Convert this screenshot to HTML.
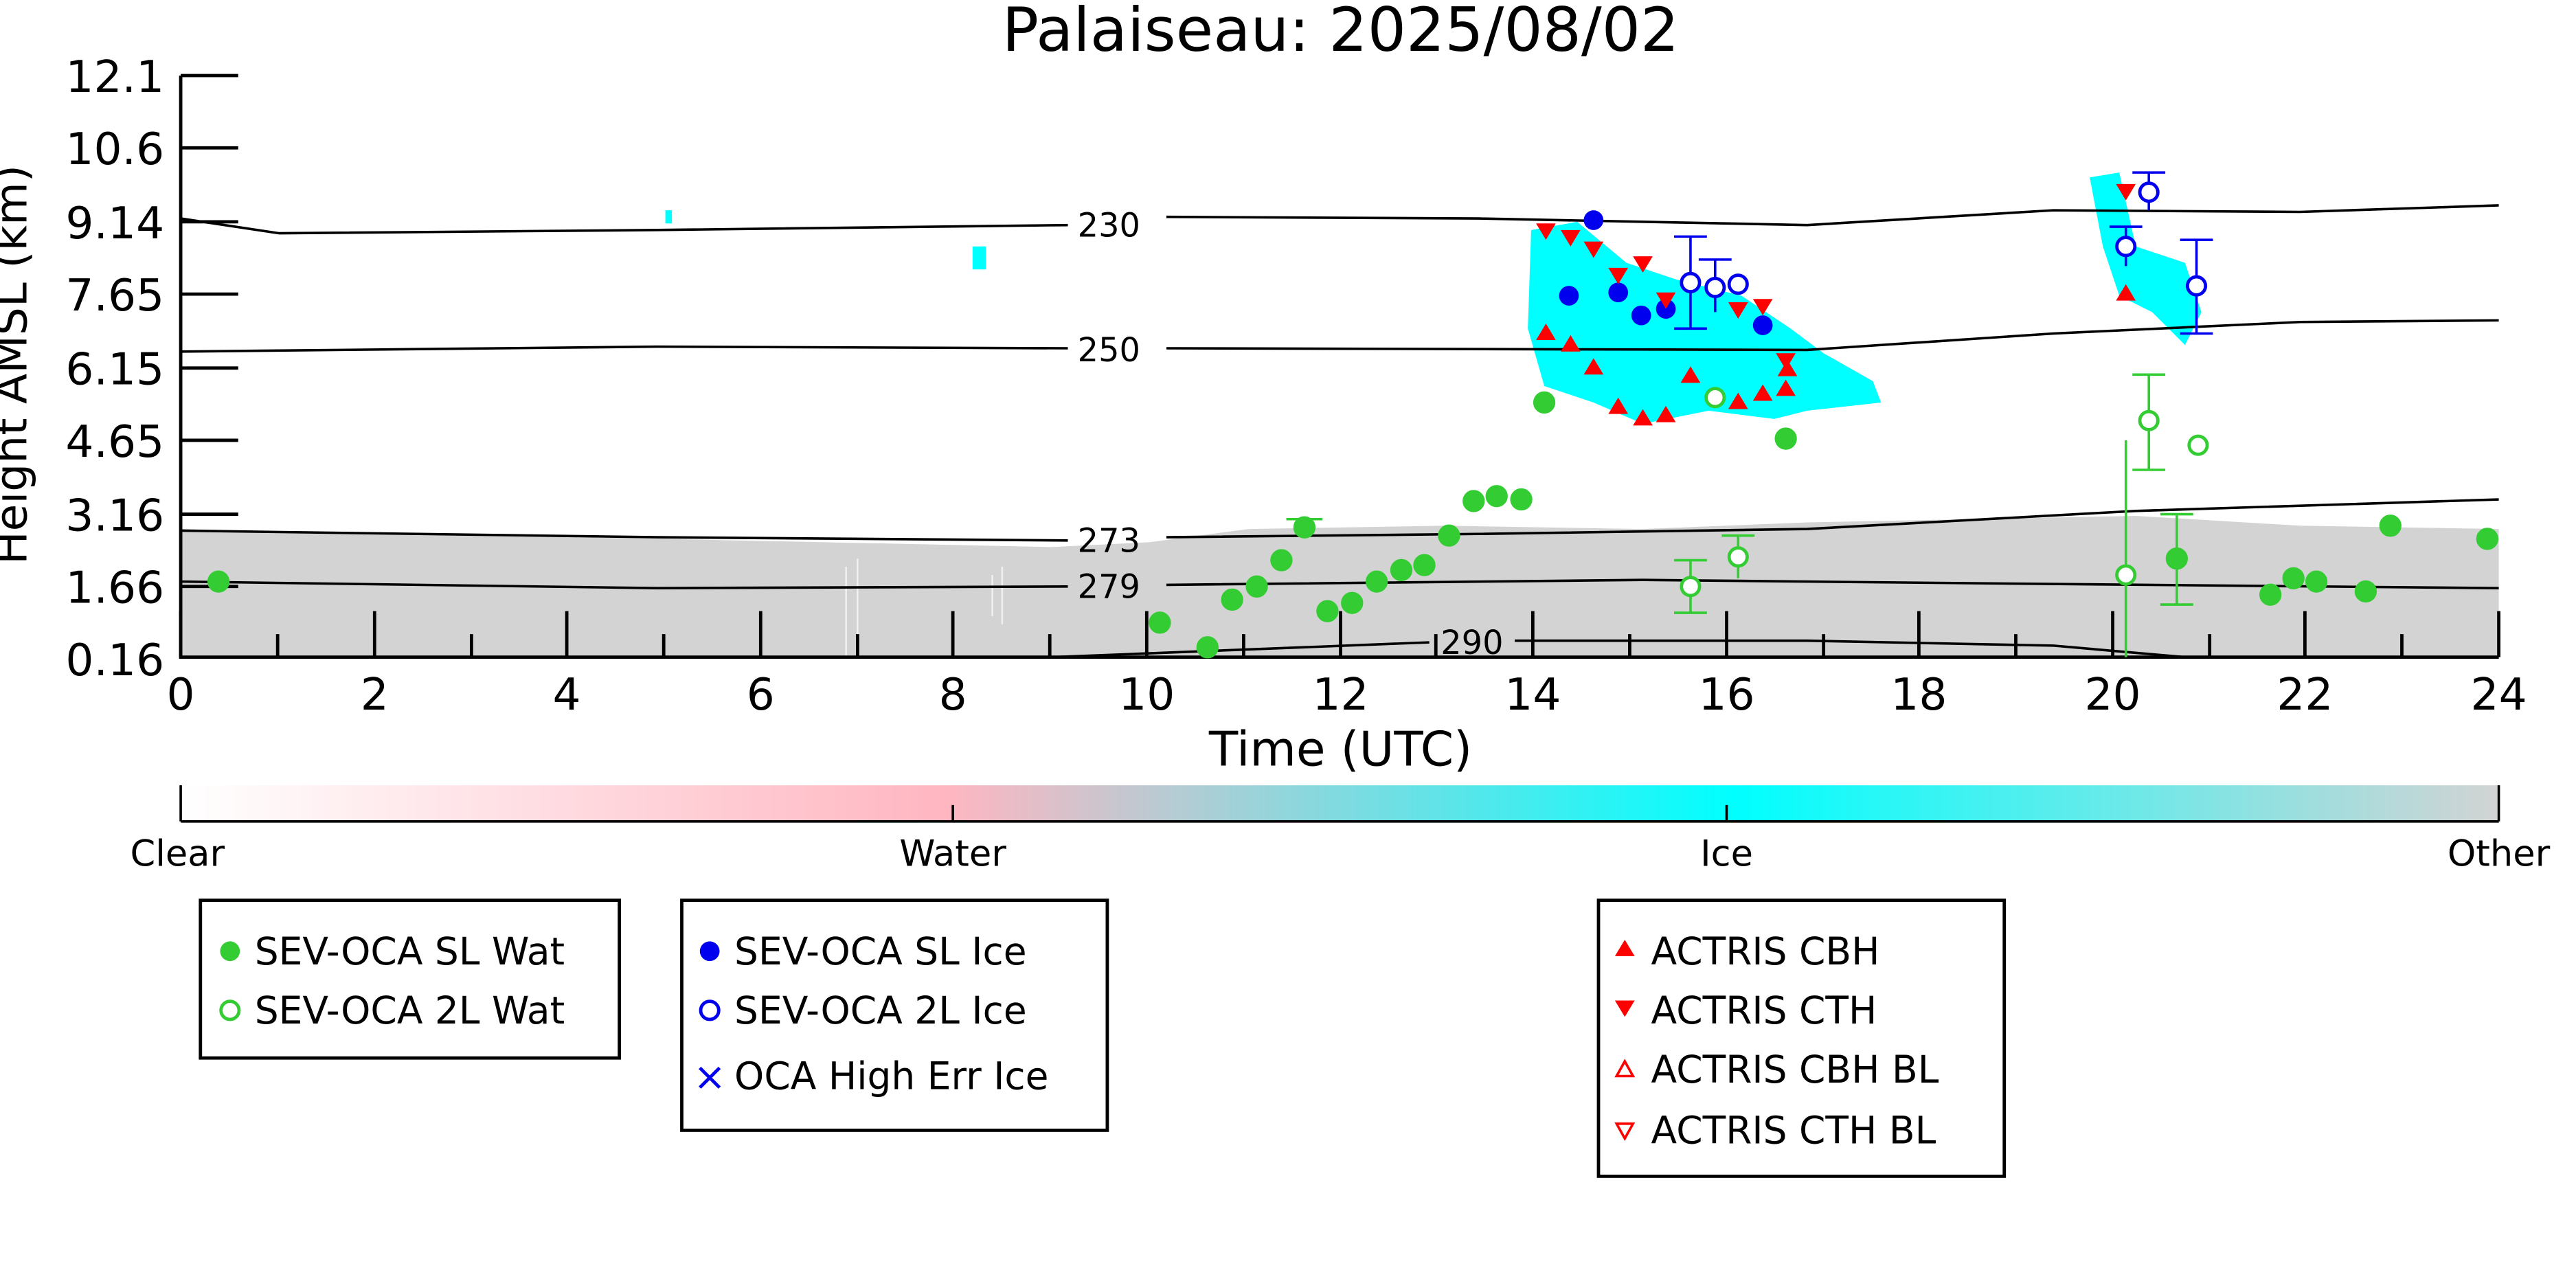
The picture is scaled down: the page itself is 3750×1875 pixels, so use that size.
<!DOCTYPE html>
<html><head><meta charset="utf-8"><style>html,body{margin:0;padding:0;background:#fff}svg{display:block}</style></head>
<body>
<svg width="3750" height="1875" viewBox="0 0 1568 784" xmlns="http://www.w3.org/2000/svg" font-family="DejaVu Sans, Liberation Sans, sans-serif">
<defs>
<linearGradient id="cb" x1="0" x2="1" y1="0" y2="0">
<stop offset="0" stop-color="#ffffff"/><stop offset="0.33" stop-color="#ffb6c1"/><stop offset="0.67" stop-color="#00ffff"/><stop offset="1" stop-color="#d3d3d3"/>
</linearGradient>
</defs>
<text x="816" y="31" font-size="37" text-anchor="middle">Palaiseau: 2025/08/02</text>
<path d="M110,322 L300,326 L500,330 L640,333 L700,330 L760,322 L880,320 L1000,322 L1100,318 L1200,316 L1300,314 L1400,320 L1521,322 L1521,400 L110,400 Z" fill="#d3d3d3"/>
<g stroke="#fff" stroke-width="1" opacity="0.7">
<path d="M515,345 V400 M522,340 V400 M604,350 V375 M610,345 V380"/>
</g>
<path d="M932,140 L960,135 L990,160 L1020,170 L1060,180 L1090,200 L1110,215 L1140,232 L1145,245 L1100,250 L1080,255 L1040,250 L1000,258 L970,245 L940,235 L930,200 Z" fill="#00ffff"/>
<path d="M1272,108 L1290,105 L1300,150 L1330,160 L1340,190 L1330,210 L1310,190 L1290,180 L1280,150 Z" fill="#00ffff"/>
<rect x="405" y="128" width="4" height="8" fill="#00ffff"/>
<rect x="592" y="150" width="8" height="14" fill="#00ffff"/>
<g fill="none" stroke="#000" stroke-width="1.5">
<path d="M110,133 L170,142 L400,140 L650,137 M710,132 L900,133 L1100,137 L1250,128 L1400,129 L1521,125"/>
<path d="M110,214 L400,211 L650,212 M710,212 L1100,213 L1250,203 L1400,196 L1521,195"/>
<path d="M110,323 L400,327 L650,329 M710,327 L900,325 L1100,322 L1300,311 L1521,304"/>
<path d="M110,354 L400,358 L650,357 M710,356 L1000,353 L1200,355 L1521,358"/>
<path d="M640,400 L870,391 M922,390 L1100,390 L1250,393 L1330,400"/>
</g>
<g font-size="20" text-anchor="middle">
<text x="675" y="144">230</text><text x="675" y="220">250</text><text x="675" y="336">273</text><text x="675" y="364">279</text><text x="896" y="398">290</text>
</g>
<g stroke="#000" stroke-width="2" fill="none">
<path d="M110,46 L110,400 L1521,400"/>
<path d="M110,46 L145,46 M110,90 L145,90 M110,135 L145,135 M110,179 L145,179 M110,224 L145,224 M110,268 L145,268 M110,313 L145,313 M110,357 L145,357"/>
<path d="M110,400 v-28 M228,400 v-28 M345,400 v-28 M463,400 v-28 M580,400 v-28 M698,400 v-28 M816,400 v-28 M933,400 v-28 M1051,400 v-28 M1168,400 v-28 M1286,400 v-28 M1403,400 v-28 M1521,400 v-28"/>
<path d="M169,400 v-14 M287,400 v-14 M404,400 v-14 M522,400 v-14 M639,400 v-14 M757,400 v-14 M874,400 v-14 M992,400 v-14 M1110,400 v-14 M1227,400 v-14 M1345,400 v-14 M1462,400 v-14"/>
</g>
<g font-size="27" text-anchor="end">
<text x="100" y="56">12.1</text><text x="100" y="100">10.6</text><text x="100" y="145">9.14</text><text x="100" y="189">7.65</text><text x="100" y="234">6.15</text><text x="100" y="278">4.65</text><text x="100" y="323">3.16</text><text x="100" y="367">1.66</text><text x="100" y="411">0.16</text>
</g>
<g font-size="27" text-anchor="middle">
<text x="110" y="432">0</text><text x="228" y="432">2</text><text x="345" y="432">4</text><text x="463" y="432">6</text><text x="580" y="432">8</text><text x="698" y="432">10</text><text x="816" y="432">12</text><text x="933" y="432">14</text><text x="1051" y="432">16</text><text x="1168" y="432">18</text><text x="1286" y="432">20</text><text x="1403" y="432">22</text><text x="1521" y="432">24</text>
<text x="816" y="466" font-size="29">Time (UTC)</text>
</g>
<text transform="translate(16,222) rotate(-90)" font-size="27" text-anchor="middle">Height AMSL (km)</text>
<g fill="#33cc33" stroke="#33cc33" stroke-width="1.5">
<circle cx="133" cy="354" r="6"/><circle cx="706" cy="379" r="6"/><circle cx="735" cy="394" r="6"/><circle cx="750" cy="365" r="6"/><circle cx="765" cy="357" r="6"/><circle cx="780" cy="341" r="6"/><circle cx="794" cy="321" r="6"/><circle cx="808" cy="372" r="6"/><circle cx="823" cy="367" r="6"/><circle cx="838" cy="354" r="6"/><circle cx="853" cy="347" r="6"/><circle cx="867" cy="344" r="6"/><circle cx="882" cy="326" r="6"/><circle cx="897" cy="305" r="6"/><circle cx="911" cy="302" r="6"/><circle cx="926" cy="304" r="6"/><circle cx="940" cy="245" r="6"/><circle cx="1087" cy="267" r="6"/><circle cx="1325" cy="340" r="6"/><circle cx="1382" cy="362" r="6"/><circle cx="1396" cy="352" r="6"/><circle cx="1410" cy="354" r="6"/><circle cx="1440" cy="360" r="6"/><circle cx="1455" cy="320" r="6"/><circle cx="1514" cy="328" r="6"/>
<path d="M1325,313 V368 M1315,313 h20 M1315,368 h20 M783,316 h22 M1294,268 V400 M1029,341 V373 M1019,341 h20 M1019,373 h20 M1058,326 V352 M1048,326 h20 M1308,228 V286 M1298,228 h20 M1298,286 h20" fill="none"/>
</g>
<g fill="#fff" stroke="#33cc33" stroke-width="2">
<circle cx="1029" cy="357" r="5.5"/><circle cx="1044" cy="242" r="5.5"/><circle cx="1058" cy="339" r="5.5"/><circle cx="1294" cy="350" r="5.5"/><circle cx="1308" cy="256" r="5.5"/><circle cx="1338" cy="271" r="5.5"/>
</g>
<g stroke="#0000ee" stroke-width="1.5" fill="none">
<path d="M1029,144 V200 M1019,144 h20 M1019,200 h20 M1044,158 V190 M1034,158 h20 M1337,146 V203 M1327,146 h20 M1327,203 h20 M1308,105 V128 M1298,105 h20 M1294,138 V162 M1284,138 h20"/>
</g>
<g fill="#0000ee">
<circle cx="955" cy="180" r="6"/><circle cx="970" cy="134" r="6"/><circle cx="985" cy="178" r="6"/><circle cx="999" cy="192" r="6"/><circle cx="1014" cy="188" r="6"/><circle cx="1073" cy="198" r="6"/>
</g>
<g fill="#fff" stroke="#0000ee" stroke-width="2">
<circle cx="1029" cy="172" r="5.5"/><circle cx="1044" cy="175" r="5.5"/><circle cx="1058" cy="173" r="5.5"/><circle cx="1294" cy="150" r="5.5"/><circle cx="1308" cy="117" r="5.5"/><circle cx="1337" cy="174" r="5.5"/>
</g>
<g fill="#ff0000">
<path d="M941,197 l6,10 h-12z M956,204 l6,10 h-12z M970,218 l6,10 h-12z M985,242 l6,10 h-12z M1000,249 l6,10 h-12z M1014,247 l6,10 h-12z M1029,223 l6,10 h-12z M1058,239 l6,10 h-12z M1073,234 l6,10 h-12z M1087,231 l6,10 h-12z M1088,219 l6,10 h-12z M1294,173 l6,10 h-12z"/>
<path d="M941,146 l6,-10 h-12z M956,150 l6,-10 h-12z M970,157 l6,-10 h-12z M985,173 l6,-10 h-12z M1000,166 l6,-10 h-12z M1014,188 l6,-10 h-12z M1058,194 l6,-10 h-12z M1073,192 l6,-10 h-12z M1087,225 l6,-10 h-12z M1294,122 l6,-10 h-12z"/>
</g>
<rect x="110" y="478" width="1411" height="22" fill="url(#cb)"/>
<g stroke="#000" stroke-width="1.5">
<path d="M110,478 v22 M1521,478 v22 M580,490 v10 M1051,490 v10 M110,500 H1521"/>
</g>
<g font-size="22" text-anchor="middle">
<text x="108" y="527">Clear</text><text x="580" y="527">Water</text><text x="1051" y="527">Ice</text><text x="1521" y="527">Other</text>
</g>
<g fill="none" stroke="#000" stroke-width="2">
<rect x="122" y="548" width="255" height="96"/><rect x="415" y="548" width="259" height="140"/><rect x="973" y="548" width="247" height="168"/>
</g>
<g font-size="23">
<circle cx="140" cy="579" r="6" fill="#33cc33"/><text x="155" y="587">SEV-OCA SL Wat</text>
<circle cx="140" cy="615" r="5.5" fill="#fff" stroke="#33cc33" stroke-width="2"/><text x="155" y="623">SEV-OCA 2L Wat</text>
<circle cx="432" cy="579" r="6" fill="#0000ee"/><text x="447" y="587">SEV-OCA SL Ice</text>
<circle cx="432" cy="615" r="5.5" fill="#fff" stroke="#0000ee" stroke-width="2"/><text x="447" y="623">SEV-OCA 2L Ice</text>
<path d="M426,650 l12,12 M438,650 l-12,12" stroke="#0000ee" stroke-width="2"/><text x="447" y="663">OCA High Err Ice</text>
<path d="M989,572 l6,10 h-12z" fill="#ff0000"/><text x="1005" y="587">ACTRIS CBH</text>
<path d="M989,619 l6,-10 h-12z" fill="#ff0000"/><text x="1005" y="623">ACTRIS CTH</text>
<path d="M989,646 l5,9 h-10z" fill="#fff" stroke="#ff0000" stroke-width="1.5"/><text x="1005" y="659">ACTRIS CBH BL</text>
<path d="M989,693 l5,-9 h-10z" fill="#fff" stroke="#ff0000" stroke-width="1.5"/><text x="1005" y="696">ACTRIS CTH BL</text>
</g>
</svg>
</body></html>
